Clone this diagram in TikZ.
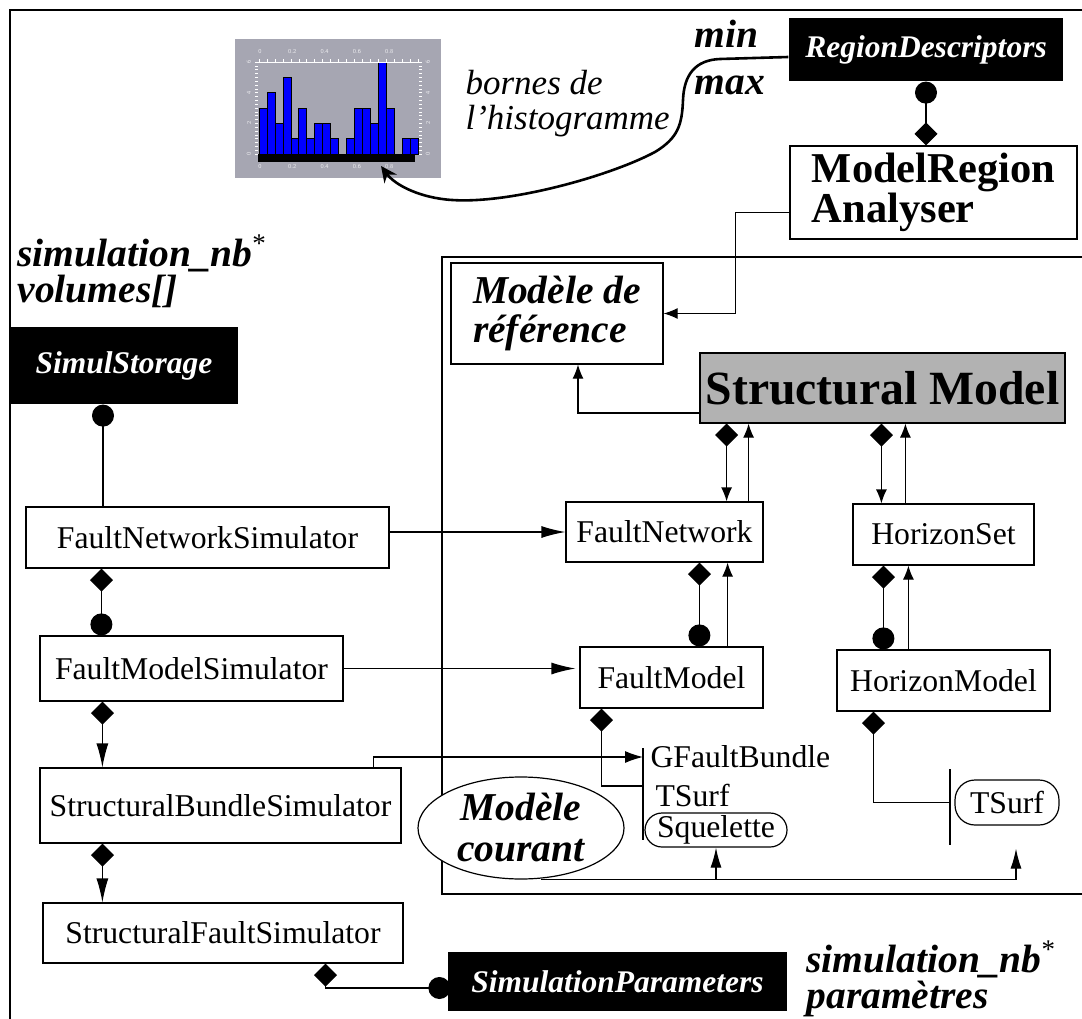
\documentclass[tikz,border=0pt]{standalone}
\usepackage{fontspec}
\setmainfont{Liberation Serif}
\usetikzlibrary{arrows.meta,calc,shapes.geometric}
\definecolor{ModelGray}{gray}{0.7}
\definecolor{HistBack}{RGB}{166,166,178}
\definecolor{HistBar}{RGB}{0,0,255}

\newcommand\clsfont{\fontsize{31.7}{36}\selectfont}
\newcommand\storefont{\fontsize{31.5}{36}\selectfont\bfseries\itshape}
\newcommand\tagfont{\fontsize{39.5}{36}\selectfont\bfseries\itshape}
\newcommand\multstar{\raisebox{14pt}{\normalfont\fontsize{27}{27}\selectfont *}}

\tikzset{
  agg/.tip={Diamond[length=23pt,width=23pt]},
  ball/.tip={Circle[length=22pt]},
  spear/.tip={Latex[length=24pt,width=12pt]}
}

\begin{document}
\begin{tikzpicture}[x=1pt, y=-1pt, line width=1.2pt,
                    >={Latex[length=14pt,width=11pt]},
                    cls/.style={draw, fill=white, inner sep=0pt, font=\clsfont},
                    store/.style={fill=black, text=white, inner sep=0pt, font=\storefont},
                    tag/.style={inner sep=0pt, anchor=west, align=left, font=\tagfont},
                    lbl/.style={inner sep=0pt, anchor=west, font=\clsfont},
                    ticklbl/.style={inner sep=0pt, text=white!80!HistBack,
                                    font={\fontsize{6}{6}\selectfont\sffamily}}]
  \useasboundingbox (0,0) rectangle (1082,1019);

  % frames
  \draw[line width=2pt] (10,1030) -- (10,10) -- (1090,10);
  \draw[line width=1.5pt] (1090,257) -- (442,257) -- (442,894) -- (1090,894);

  % histogram
  \node[fill=HistBack, inner sep=0pt, minimum width=206pt, minimum height=139pt] (histo) at (338,108.5) {};
  \foreach \n [count=\idx from 0] in {3,4,2,5,1,3,1,2,2,1,0,1,3,3,2,6,3,0,1,1}
    {\ifnum\n>0 \filldraw[fill=HistBar, line width=0.6pt] (259+\idx*7.95,154) rectangle ++(7.95,-\n*15.33);\fi}
  \fill (258,154) rectangle (415,162);
  \draw[white, line width=0.8pt] (257,62) -- (419,62);
  \foreach \t in {0,...,20}
    {\draw[white, line width=0.5pt] (259+\t*7.95,62) -- ++(0,-2.5);}
  \foreach \t in {0,...,24}
    {\draw[white, line width=0.5pt] (255,62+\t*3.833) -- ++(3,0);
     \draw[white, line width=0.5pt] (419,62+\t*3.833) -- ++(3,0);}
  \foreach \t/\s in {0/0,1/0.2,2/0.4,3/0.6,4/0.8}
    {\node[ticklbl] (top\t) at (260+\t*32.3,52) {\s};
     \node[ticklbl] (bot\t) at (260+\t*32.3,167) {\s};}
  \foreach \t in {0,2,4,6}
    {\node[ticklbl, rotate=90] (lft\t) at (249,154-\t*15.33) {\t};
     \node[ticklbl, rotate=90] (rgt\t) at (428,154-\t*15.33) {\t};}
  \coordinate (bounds) at (381,166);

  % top right
  \node[store, minimum width=274pt, minimum height=63pt] (regdesc) at (926,49.5) {RegionDescriptors};
  \node[cls, font={\fontsize{42.5}{40}\selectfont\bfseries}, align=left,
        minimum width=287pt, minimum height=93pt] (mra) at (933.5,192.5) {ModelRegion\\Analyser};
  \node[tag, font={\fontsize{39.5}{47}\selectfont\bfseries\itshape}] (minmax) at (694,58) {min\\max};
  \node[inner sep=0pt, anchor=west, align=left, font={\fontsize{35}{35}\selectfont\itshape}]
        (histnote) at (465,103.5) {bornes de\\l'histogramme};

  % simulators
  \node[tag] (storetag) at (17,271) {simulation\_nb\multstar\\volumes[]};
  \node[store, minimum width=228pt, minimum height=77pt] (simstore) at (124,365.5) {SimulStorage};
  \node[cls, minimum width=363pt, minimum height=61pt] (fns) at (207.5,537.5) {FaultNetworkSimulator};
  \node[cls, minimum width=303pt, minimum height=65pt] (fms) at (191.5,668.5) {FaultModelSimulator};
  \node[cls, minimum width=361pt, minimum height=75pt] (sbs) at (220.5,805.5) {StructuralBundleSimulator};
  \node[cls, minimum width=360pt, minimum height=60pt] (sfs) at (223,933) {StructuralFaultSimulator};
  \node[store, minimum width=339pt, minimum height=59pt] (simparam) at (617.5,981.5) {SimulationParameters};
  \node[tag, font={\fontsize{39.5}{36}\selectfont\bfseries\itshape}] (paramtag) at (806,979)
        {simulation\_nb\multstar\\paramètres};

  % model
  \node[cls, font={\fontsize{39.5}{39}\selectfont\bfseries\itshape}, align=left,
        minimum width=212pt, minimum height=101pt] (ref) at (557,313.5) {Modèle de\\référence};
  \node[cls, fill=ModelGray, font={\fontsize{47.7}{50}\selectfont\bfseries},
        minimum width=365pt, minimum height=70pt] (sm) at (882.5,388) {Structural Model};
  \node[cls, minimum width=197pt, minimum height=60pt] (fn) at (664.5,532) {FaultNetwork};
  \node[cls, minimum width=181pt, minimum height=61pt] (hs) at (943.5,534.5) {HorizonSet};
  \node[cls, minimum width=183pt, minimum height=61pt] (fm) at (671.5,677.5) {FaultModel};
  \node[cls, minimum width=213pt, minimum height=61pt] (hm) at (943.5,680.5) {HorizonModel};
  \node[cls, ellipse, inner sep=-6pt, align=center, font={\fontsize{39.5}{41}\selectfont\bfseries\itshape},
        minimum width=206pt, minimum height=102pt] (courant) at (521,828) {Modèle\\courant};
  \node[cls, rounded corners=17pt, minimum width=142pt, minimum height=34pt] (squelette) at (716,830) {Squelette};
  \node[cls, rounded corners=20pt, minimum width=104pt, minimum height=45pt] (tsurfb) at (1007,802.5) {TSurf};
  \node[lbl] (gfb) at (650,757) {GFaultBundle};
  \node[lbl] (tsa) at (655,795) {TSurf};
  \coordinate (barA) at (643,748);
  \coordinate (barB) at (950,769);
  \draw (barA) -- ++(0,92);
  \draw (barB) -- ++(0,76);

  % histogram bounds
  \draw[line width=2.6pt, -{Stealth[length=16pt,width=15pt]}] ([yshift=-7.5pt]regdesc.west) -- (720,59)
     .. controls (695,60) and (684,75) .. (683,100)
     .. controls (682,125) and (678,138) .. (655,152)
     .. controls (610,176) and (510,204) .. (452,200)
     .. controls (420,198) and (395,185) .. (bounds);
  \draw[ball-agg] (regdesc.south) -- (regdesc.south |- mra.north);
  \draw[->] ([yshift=-20pt]mra.west) -- ++(-54,0) |- (ref.east);
  \draw[->] ([yshift=-25pt]sm.west) -| ($(ref.south)+(21,0)$);

  % composition links
  \draw[agg->] ($(fn.north east |- sm.south)+(-37,0)$) -- ($(fn.north east)+(-37,0)$);
  \draw[->] ($(fn.north east)+(-15,0)$) -- ($(fn.north east |- sm.south)+(-15,0)$);
  \draw[agg->] ($(hs.north west |- sm.south)+(29,0)$) -- ($(hs.north west)+(29,0)$);
  \draw[->] ($(hs.north west)+(53,0)$) -- ($(hs.north west |- sm.south)+(53,0)$);
  \draw[agg-ball] ($(fm.north west |- fn.south)+(120,0)$) -- ($(fm.north west)+(120,0)$);
  \draw[->] ($(fm.north east)+(-36,0)$) -- ($(fm.north east |- fn.south)+(-36,0)$);
  \draw[agg-ball] ($(hm.north west |- hs.south)+(47,0)$) -- ($(hm.north west)+(47,0)$);
  \draw[->] ($(hm.north west)+(72,0)$) -- ($(hm.north west |- hs.south)+(72,0)$);
  \draw[agg-] ($(fm.south west)+(22,0)$) |- ($(tsa.west -| barA)+(0,-9)$);
  \draw[agg-] ($(hm.south west)+(37,0)$) |- (tsurfb.west -| barB);

  % simulator chain
  \draw[ball-] ($(simstore.south)+(-21,0)$) -- ($(simstore.south |- fns.north)+(-21,0)$);
  \draw[agg-ball] ($(fms.north west |- fns.south)+(62,0)$) -- ($(fms.north west)+(62,0)$);
  \draw[agg-spear] ($(sbs.north west |- fms.south)+(63,0)$) -- ($(sbs.north west)+(63,0)$);
  \draw[agg-spear] ($(sfs.north west |- sbs.south)+(60,0)$) -- ($(sfs.north west)+(60,0)$);
  \draw[agg-ball] ($(sfs.south east)+(-78,0)$) |- ($(simparam.west)+(3,6.5)$);
  \draw[-spear] (fns.east |- fn.west) -- (fn.west);
  \draw[-spear] (fms.east) -- ($(fms.east -| fm.west)+(-4,0)$);
  \draw[-{Latex[length=18pt,width=12pt]}] ($(sbs.north east)+(-28,0)$) |- (gfb.west -| barA);

  % current model
  \draw[-{Latex[length=20pt,width=11pt]}] ($(courant.south)+(20,0)$) -| ($(tsurfb.south)+(9,23)$);
  \draw[-{Latex[length=20pt,width=11pt]}] (squelette.south |- courant.south) -- (squelette.south);
\end{tikzpicture}
\end{document}
